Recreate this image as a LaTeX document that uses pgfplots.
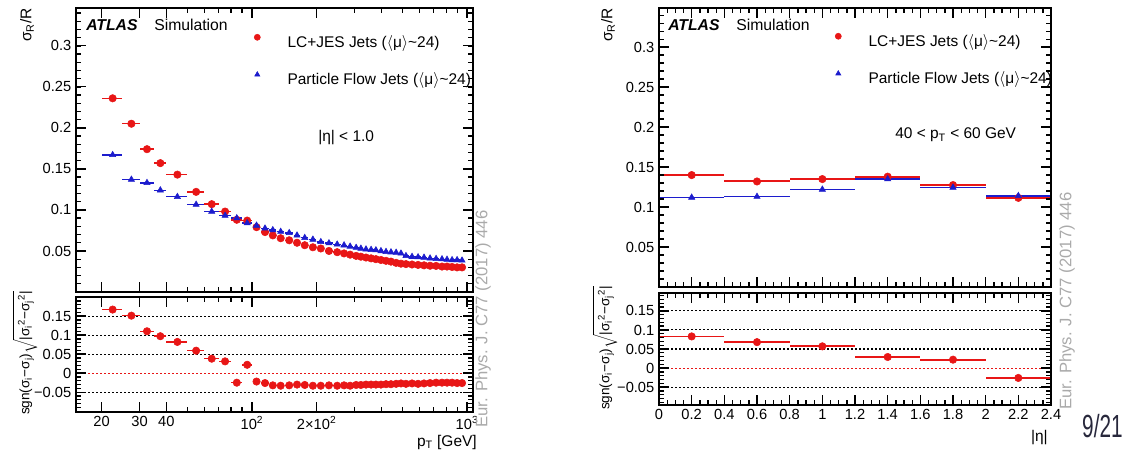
\documentclass[border=0pt]{standalone}
\usepackage{fontspec}
\setmainfont{Liberation Sans}
\usepackage{pgfplots}
\pgfplotsset{compat=1.18}
\usepackage{pgfplotstable}
\definecolor{rred}{RGB}{232,22,22}
\definecolor{rblue}{RGB}{28,28,205}
\definecolor{pubgray}{RGB}{170,170,170}
\definecolor{pagecol}{RGB}{40,40,60}

\pgfplotstableread{
x xe red blue
22.5 2.5 0.236 0.167
27.5 2.5 0.205 0.137
32.5 2.5 0.174 0.133
37.5 2.5 0.157 0.124
45 5 0.143 0.116
55 5 0.122 0.1065
65 5 0.107 0.098
75 5 0.098 0.093
85 5 0.088 0.090
95 5 0.087 0.084
105 4 0.079 0.081
115 5 0.073 0.0775
125 5 0.069 0.0755
136 5 0.0655 0.0735
149 6 0.063 0.072
162 6 0.060 0.069
176 7 0.057 0.066
192 7 0.0545 0.064
209 8 0.053 0.061
228 9 0.050 0.0595
249 10 0.0485 0.058
268 9 0.047 0.057
286 9 0.0455 0.0555
305 9 0.044 0.054
321 8 0.043 0.053
339 9 0.042 0.052
358 9 0.041 0.0515
377 10 0.040 0.051
398 10 0.039 0.050
420 11 0.038 0.049
443 11 0.037 0.0485
468 12 0.0355 0.048
493 13 0.0345 0.047
520 15 0.034 0.044
555 17 0.0335 0.043
592 19 0.033 0.0425
631 20 0.0325 0.042
673 21 0.032 0.041
718 23 0.0318 0.0405
765 22 0.031 0.040
807 21 0.031 0.0395
852 23 0.0305 0.039
899 24 0.030 0.039
948 25 0.030 0.0385
}\lefttop

\pgfplotstableread{
x xe r
22.5 2.5 0.167
27.5 2.5 0.151
32.5 2.5 0.110
37.5 2.5 0.097
45 5 0.082
55 5 0.059
65 5 0.038
75 5 0.031
85 5 -0.025
95 5 0.022
105 4 -0.022
115 5 -0.026
125 5 -0.032
136 5 -0.033
149 6 -0.032
162 6 -0.030
176 7 -0.031
192 7 -0.033
209 8 -0.033
228 9 -0.032
249 10 -0.033
268 9 -0.032
286 9 -0.033
305 9 -0.031
321 8 -0.031
339 9 -0.030
358 9 -0.030
377 10 -0.030
398 10 -0.030
420 11 -0.029
443 11 -0.029
468 12 -0.028
493 13 -0.027
520 15 -0.028
555 17 -0.027
592 19 -0.028
631 20 -0.027
673 21 -0.026
718 23 -0.025
765 22 -0.025
807 21 -0.025
852 23 -0.025
899 24 -0.026
948 25 -0.026
}\leftratio

\pgfplotstableread{
x xe red blue
0.2 0.2 0.140 0.112
0.6 0.2 0.132 0.113
1.0 0.2 0.135 0.122
1.4 0.2 0.138 0.135
1.8 0.2 0.1275 0.1245
2.2 0.2 0.1115 0.114
}\righttop

\pgfplotstableread{
x xe r ye
0.2 0.2 0.083 0.003
0.6 0.2 0.068 0.003
1.0 0.2 0.057 0.003
1.4 0.2 0.029 0.004
1.8 0.2 0.022 0.008
2.2 0.2 -0.026 0.004
}\rightratio

\pgfplotsset{
  rootax/.style={
    scale only axis, anchor=south west, axis on top,
    tick align=inside, xtick pos=both, ytick pos=both,
    axis line style={line width=1.2pt},
    tick style={black, line width=1pt},
    major tick length=7.5pt, minor tick length=3.8pt,
    tick label style={font=\fontsize{11}{13}\selectfont},
  },
  legimg/.style={legend image code/.code={\draw[##1] plot coordinates {(0pt,3.6pt)}; \path (-2.4pt,0pt) (22.5pt,0pt);}},
  redpts/.style={only marks, mark=*, mark size=2.8pt, color=rred, mark options={fill=rred, draw=rred}},
  bluepts/.style={only marks, mark=triangle*, mark size=2.7pt, color=rblue, mark options={fill=rblue, draw=rblue}},
  redleg/.style={only marks, mark=*, mark size=2.3pt, color=rred, mark options={fill=rred, draw=rred}},
  blueleg/.style={only marks, mark=triangle*, mark size=2.2pt, color=rblue, mark options={fill=rblue, draw=rblue}},
  gridl/.style={black, line width=0.8pt, dash pattern=on 1.2pt off 1.8pt, forget plot},
  zerol/.style={rred, line width=0.8pt, dash pattern=on 1.2pt off 1.8pt, forget plot},
  legsty/.style={legend style={draw=none, fill=none, inner sep=0pt, outer sep=0pt, row sep=16.9pt,
    nodes={inner sep=0pt, font=\fontsize{11.6}{13}\selectfont}, at={#1}, anchor=north west}, legend cell align=left},
}
\tikzset{tk/.style={black, line width=1pt}}

\begin{document}
\begin{tikzpicture}
\useasboundingbox (0,0) rectangle (845.25pt,340.5pt);

% ---------- left top ----------
\begin{axis}[rootax, at={(57pt,121.5pt)}, width=297.75pt, height=213pt,
  xmode=log, xmin=15.2, xmax=1066, ymin=0, ymax=0.346,
  xtick={20,30,40,100,200,1000}, xticklabels={},
  minor xtick={50,60,70,80,90,300,400,500,600,700,800,900},
  ytick={0,0.05,0.1,0.15,0.2,0.25,0.3}, yticklabels={{},0.05,0.1,0.15,0.2,0.25,0.3},
  minor y tick num=4,
  legsty={(0.4479,0.9077)}]
\addlegendimage{redleg, legimg}
\addlegendentry{LC+JES Jets ($\langle$μ$\rangle$\textasciitilde 24)}
\addlegendimage{blueleg, legimg}
\addlegendentry{Particle Flow Jets ($\langle$μ$\rangle$\textasciitilde 24)}
\addplot[redpts, forget plot, error bars/.cd, x dir=both, x explicit, error mark=none,
  error bar style={line width=1.1pt, rred}] table[x=x, y=red, x error=xe] {\lefttop};
\addplot[bluepts, forget plot, error bars/.cd, x dir=both, x explicit, error mark=none,
  error bar style={line width=1.0pt, rblue}] table[x=x, y=blue, x error=xe] {\lefttop};
\end{axis}

% ---------- left ratio ----------
\begin{axis}[rootax, at={(57pt,31.5pt)}, width=297.75pt, height=86.25pt,
  xmode=log, xmin=15.2, xmax=1066, ymin=-0.102, ymax=0.2,
  xtick={20,30,40,100,200,1000},
  xticklabels={20,30,40,10\textsuperscript{2},2×10\textsuperscript{2},10\textsuperscript{3}},
  minor xtick={50,60,70,80,90,300,400,500,600,700,800,900},
  ytick={-0.1,-0.05,0,0.05,0.1,0.15,0.2}, yticklabels={{},−0.05,0,0.05,0.1,0.15,{}},
  minor y tick num=4]
\addplot[gridl] coordinates {(15.2,-0.05) (1066,-0.05)};
\addplot[gridl] coordinates {(15.2,0.05) (1066,0.05)};
\addplot[gridl] coordinates {(15.2,0.1) (1066,0.1)};
\addplot[gridl] coordinates {(15.2,0.15) (1066,0.15)};
\addplot[zerol] coordinates {(15.2,0) (1066,0)};
\addplot[redpts, error bars/.cd, x dir=both, x explicit, error mark=none,
  error bar style={line width=1.1pt, rred}] table[x=x, y=r, x error=xe] {\leftratio};
\end{axis}

% ---------- right top ----------
\begin{axis}[rootax, at={(494.25pt,125.25pt)}, width=294pt, height=209.25pt,
  xmin=0, xmax=2.4, ymin=0, ymax=0.349,
  xtick={0,0.2,0.4,0.6,0.8,1.0,1.2,1.4,1.6,1.8,2.0,2.2,2.4}, xticklabels={},
  minor x tick num=3,
  ytick={0,0.05,0.1,0.15,0.2,0.25,0.3}, yticklabels={{},0.05,0.1,0.15,0.2,0.25,0.3},
  minor y tick num=4,
  legsty={(0.4485,0.9097)}]
\addlegendimage{redleg, legimg}
\addlegendentry{LC+JES Jets ($\langle$μ$\rangle$\textasciitilde 24)}
\addlegendimage{blueleg, legimg}
\addlegendentry{Particle Flow Jets ($\langle$μ$\rangle$\textasciitilde 24)}
\addplot[redpts, forget plot, error bars/.cd, x dir=both, x explicit, error mark=none,
  error bar style={line width=1.5pt, rred}] table[x=x, y=red, x error=xe] {\righttop};
\addplot[bluepts, forget plot, error bars/.cd, x dir=both, x explicit, error mark=none,
  error bar style={line width=1.2pt, rblue}] table[x=x, y=blue, x error=xe] {\righttop};
\end{axis}

% ---------- right ratio ----------
\begin{axis}[rootax, at={(494.25pt,36.75pt)}, width=294pt, height=84pt,
  xmin=0, xmax=2.4, ymin=-0.097, ymax=0.197,
  xtick={0,0.2,0.4,0.6,0.8,1.0,1.2,1.4,1.6,1.8,2.0,2.2,2.4},
  xticklabels={0,0.2,0.4,0.6,0.8,1,1.2,1.4,1.6,1.8,2,2.2,2.4},
  minor x tick num=3,
  ytick={-0.05,0,0.05,0.1,0.15}, yticklabels={−0.05,0,0.05,0.1,0.15},
  minor y tick num=4]
\addplot[gridl] coordinates {(0,-0.05) (2.4,-0.05)};
\addplot[gridl] coordinates {(0,0.05) (2.4,0.05)};
\addplot[gridl] coordinates {(0,0.1) (2.4,0.1)};
\addplot[gridl] coordinates {(0,0.15) (2.4,0.15)};
\addplot[zerol] coordinates {(0,0) (2.4,0)};
\addplot[redpts, error bars/.cd, x dir=both, y dir=both, x explicit, y explicit, error mark=none,
  error bar style={line width=1.3pt, rred}] table[x=x, y=r, x error=xe, y error=ye] {\rightratio};
\end{axis}

% ---------- explicit ROOT-style inward ticks on all four frames ----------
% left top: y ticks
\foreach \k in {1,...,34} {\pgfmathsetmacro\yy{121.5+\k*0.01/0.346*213}
  \draw[tk] (57pt,\yy pt) -- ++(3.8pt,0) (354.75pt,\yy pt) -- ++(-3.8pt,0);}
\foreach \k in {1,...,6} {\pgfmathsetmacro\yy{121.5+\k*0.05/0.346*213}
  \draw[tk] (57pt,\yy pt) -- ++(7.5pt,0) (354.75pt,\yy pt) -- ++(-7.5pt,0);}
% left ratio: y ticks
\foreach \k in {-10,...,19} {\pgfmathsetmacro\yy{31.5+(\k*0.01+0.102)/0.302*86.25}
  \draw[tk] (57pt,\yy pt) -- ++(3.8pt,0) (354.75pt,\yy pt) -- ++(-3.8pt,0);}
\foreach \k in {-1,...,3} {\pgfmathsetmacro\yy{31.5+(\k*0.05+0.102)/0.302*86.25}
  \draw[tk] (57pt,\yy pt) -- ++(7.5pt,0) (354.75pt,\yy pt) -- ++(-7.5pt,0);}
% left panels: log x ticks
\foreach \v in {20,30,40,100,200,1000} {\pgfmathsetmacro\xx{57+(ln(\v)-ln(15.2))/4.2504*297.75}
  \draw[tk] (\xx pt,121.5pt) -- ++(0,7.5pt) (\xx pt,334.5pt) -- ++(0,-7.5pt)
            (\xx pt,31.5pt) -- ++(0,6pt) (\xx pt,117.75pt) -- ++(0,-6pt);}
\foreach \v in {50,60,70,80,90,300,400,500,600,700,800,900} {\pgfmathsetmacro\xx{57+(ln(\v)-ln(15.2))/4.2504*297.75}
  \draw[tk] (\xx pt,121.5pt) -- ++(0,3.8pt) (\xx pt,334.5pt) -- ++(0,-3.8pt)
            (\xx pt,31.5pt) -- ++(0,3pt) (\xx pt,117.75pt) -- ++(0,-3pt);}
% right top: y ticks
\foreach \k in {1,...,34} {\pgfmathsetmacro\yy{125.25+\k*0.01/0.349*209.25}
  \draw[tk] (494.25pt,\yy pt) -- ++(3.8pt,0) (788.25pt,\yy pt) -- ++(-3.8pt,0);}
\foreach \k in {1,...,6} {\pgfmathsetmacro\yy{125.25+\k*0.05/0.349*209.25}
  \draw[tk] (494.25pt,\yy pt) -- ++(7.5pt,0) (788.25pt,\yy pt) -- ++(-7.5pt,0);}
% right ratio: y ticks
\foreach \k in {-9,...,19} {\pgfmathsetmacro\yy{36.75+(\k*0.01+0.097)/0.294*84}
  \draw[tk] (494.25pt,\yy pt) -- ++(3.8pt,0) (788.25pt,\yy pt) -- ++(-3.8pt,0);}
\foreach \k in {-1,...,3} {\pgfmathsetmacro\yy{36.75+(\k*0.05+0.097)/0.294*84}
  \draw[tk] (494.25pt,\yy pt) -- ++(7.5pt,0) (788.25pt,\yy pt) -- ++(-7.5pt,0);}
% right panels: x ticks
\foreach \k in {1,...,47} {\pgfmathsetmacro\xx{494.25+\k*6.125}
  \draw[tk] (\xx pt,125.25pt) -- ++(0,3.8pt) (\xx pt,334.5pt) -- ++(0,-3.8pt)
            (\xx pt,36.75pt) -- ++(0,3pt) (\xx pt,120.75pt) -- ++(0,-3pt);}
\foreach \k in {1,...,11} {\pgfmathsetmacro\xx{494.25+\k*24.5}
  \draw[tk] (\xx pt,125.25pt) -- ++(0,7.5pt) (\xx pt,334.5pt) -- ++(0,-7.5pt)
            (\xx pt,36.75pt) -- ++(0,6pt) (\xx pt,120.75pt) -- ++(0,-6pt);}

% ---------- texts (pixel coordinates) ----------
\begin{scope}[yshift=340.5pt, x=0.75pt, y=-0.75pt]
\tikzset{lab/.style={inner sep=0pt, font=\fontsize{11.6}{13}\selectfont}}
\node[lab, anchor=base west, font=\fontsize{11.8}{13}\selectfont\bfseries\itshape] at (86,31) {ATLAS};
\node[lab, anchor=base west, font=\fontsize{11.8}{13}\selectfont] at (154,31) {Simulation};
\node[lab, anchor=base west, font=\fontsize{11.8}{13}\selectfont\bfseries\itshape] at (668,31) {ATLAS};
\node[lab, anchor=base west, font=\fontsize{11.8}{13}\selectfont] at (736,31) {Simulation};
\node[lab, anchor=base west] at (318,142) {|η| < 1.0};
\node[lab, anchor=base west] at (895,139) {40 < p\textsubscript{T} < 60 GeV};
% axis titles
\node[lab, rotate=90, anchor=east] at (27,8) {σ\textsubscript{R}/R};
\node[lab, rotate=90, anchor=east] at (608,8) {σ\textsubscript{R}/R};
\node[inner sep=0pt, rotate=90, font=\fontsize{10.2}{12}\selectfont] at (25,353)
  {sgn(σ\textsubscript{i}−σ\textsubscript{j})$\sqrt{\mbox{|σ\textsubscript{i}\textsuperscript{2}−σ\textsubscript{j}\textsuperscript{2}|}}$};
\node[inner sep=0pt, rotate=90, font=\fontsize{10.2}{12}\selectfont] at (605,348)
  {sgn(σ\textsubscript{i}−σ\textsubscript{j})$\sqrt{\mbox{|σ\textsubscript{i}\textsuperscript{2}−σ\textsubscript{j}\textsuperscript{2}|}}$};
\node[lab, anchor=base east] at (477,446) {p\textsubscript{T} [GeV]};
\node[lab, anchor=base east] at (1048,441) {|η|};
% publication reference
\node[inner sep=0pt, rotate=90, anchor=west, text=pubgray, font=\fontsize{12.5}{14}\selectfont] at (483,428) {Eur. Phys. J. C77 (2017) 446};
\node[inner sep=0pt, rotate=90, anchor=west, text=pubgray, font=\fontsize{12.5}{14}\selectfont] at (1067,410) {Eur. Phys. J. C77 (2017) 446};
% page number
\node[inner sep=0pt, anchor=base west, xscale=0.65, text=pagecol, font=\fontsize{24}{26}\selectfont] at (1082,437) {9/21};
\end{scope}
\end{tikzpicture}
\end{document}
